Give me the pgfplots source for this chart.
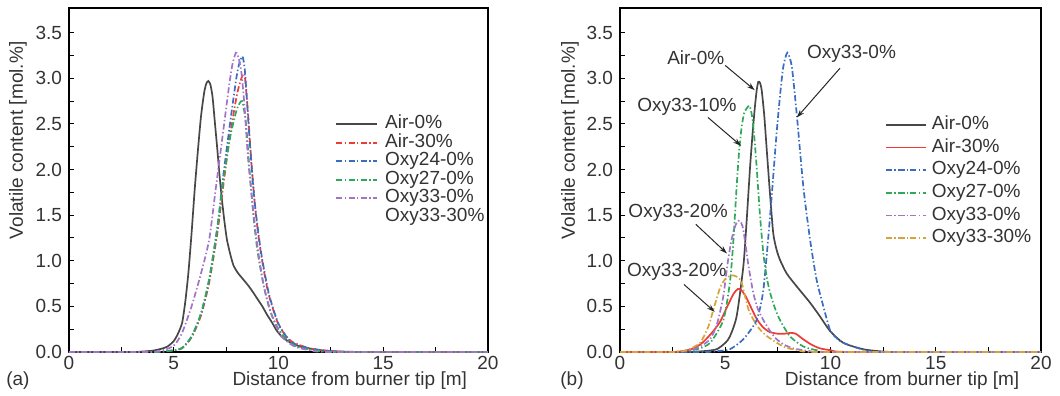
\documentclass[border=0pt]{standalone}
\usepackage{fontspec}
\setmainfont{Liberation Sans}
\usepackage{pgfplots}
\pgfplotsset{compat=1.18}
\usetikzlibrary{arrows.meta}
\definecolor{txt}{HTML}{333333}
\definecolor{cgray}{HTML}{474747}
\definecolor{cred}{HTML}{EE3B36}
\definecolor{cblue}{HTML}{3A6CC2}
\definecolor{cgreen}{HTML}{2FA85A}
\definecolor{cpurple}{HTML}{A274C8}
\definecolor{cgold}{HTML}{D6A23A}
\newcommand{\fs}{\fontsize{9.5}{11}\selectfont}
\pgfplotsset{
  myax/.style={
    scale only axis, height=172pt,
    xmin=0, xmax=20, ymin=0, ymax=3.77,
    clip=false,
    xtick={0,5,10,15,20}, minor xtick={2.5,7.5,12.5,17.5},
    ytick={0,0.5,1,1.5,2,2.5,3,3.5},
    minor ytick={0.25,0.75,1.25,1.75,2.25,2.75,3.25},
    tick align=inside, xtick pos=left, ytick pos=left,
    major tick length=2.5pt, minor tick length=2.5pt,
    tick style={color=black, line width=0.5pt},
    axis line style={line width=0.6pt, color=black},
    /pgf/number format/assume math mode=true,
    ticklabel style={font=\fs, text=txt},
    yticklabel style={/pgf/number format/.cd, fixed, fixed zerofill, precision=1},
    xticklabel style={/pgf/number format/fixed, yshift=1.5pt},
    xlabel={Distance from burner tip [m]},
    ylabel={Volatile content [mol.\%]},
    xlabel style={at={(axis description cs:0.67,-0.084)}, anchor=center, font=\fs, text=txt},
    label style={font=\fs, text=txt},
    legend cell align=left,
    legend image code/.code={\draw[mark repeat=2,mark phase=2,##1] plot coordinates {(0pt,0pt) (10pt,0pt) (20pt,0pt)};},
    every axis plot/.append style={line width=0.85pt},
  },
  dd/.style={dash pattern=on 3pt off 1.2pt on 0.7pt off 1.2pt},
}
\begin{document}
\begin{tikzpicture}
\useasboundingbox (0,0) rectangle (530pt,198pt);
% ---------------- (a)
\begin{axis}[myax, at={(34.5pt,22pt)}, anchor=south west, width=209.5pt,
  ylabel style={at={(axis description cs:-0.122,0.615)}, anchor=center},
  legend style={at={(0.635,0.69)}, anchor=north west, draw=none, fill=none,
    inner sep=0pt, row sep=0pt, column sep=4pt, font=\fs, text=txt,
    nodes={inner sep=0pt, text height=6.9pt, text depth=2.35pt, anchor=west}}]
\addplot[cgray, smooth, tension=0.4] table {
0 0
3.0 0
3.5 0.005
4.0 0.015
4.4 0.035
4.7 0.06
5.0 0.12
5.2 0.2
5.4 0.32
5.55 0.55
5.7 0.87
5.85 1.3
6.0 1.78
6.15 2.2
6.3 2.58
6.45 2.84
6.55 2.94
6.65 2.97
6.75 2.93
6.85 2.8
6.95 2.55
7.08 2.22
7.2 1.9
7.3 1.67
7.42 1.43
7.54 1.23
7.7 1.07
7.85 0.95
8.05 0.87
8.3 0.8
8.55 0.73
8.77 0.66
9.0 0.58
9.23 0.5
9.45 0.41
9.7 0.32
9.9 0.24
10.15 0.17
10.45 0.12
10.77 0.08
11.2 0.05
11.8 0.025
12.5 0.01
13.5 0.002
14.5 0
20 0
};
\addplot[cred, dd, smooth, tension=0.4] table {
0 0
4.0 0
4.7 0.01
5.38 0.04
5.85 0.16
6.3 0.4
6.69 0.76
7.08 1.3
7.38 1.85
7.69 2.38
8.0 2.8
8.2 2.98
8.38 3.04
8.55 2.6
8.7 2.1
8.9 1.55
9.15 1.1
9.5 0.66
10.0 0.3
10.6 0.12
11.5 0.04
12.5 0.01
13.5 0
20 0
};
\addplot[cblue, dd, smooth, tension=0.4] table {
0 0
4.0 0
4.7 0.01
5.38 0.04
5.85 0.17
6.3 0.42
6.69 0.79
7.08 1.37
7.38 1.96
7.69 2.51
8.0 3.02
8.15 3.18
8.28 3.24
8.38 3.12
8.46 2.88
8.62 2.33
8.85 1.67
9.15 1.12
9.54 0.64
10.0 0.31
10.6 0.11
11.5 0.04
12.5 0.01
13.5 0
20 0
};
\addplot[cgreen, dd, smooth, tension=0.4] table {
0 0
4.0 0
4.7 0.01
5.38 0.04
5.85 0.17
6.3 0.42
6.69 0.8
7.08 1.35
7.38 1.9
7.69 2.35
8.0 2.65
8.26 2.75
8.45 2.5
8.6 2.05
8.8 1.5
9.0 1.1
9.3 0.72
9.6 0.45
10.0 0.25
10.5 0.11
11.0 0.05
12.0 0.01
13.0 0
20 0
};
\addplot[cpurple, dd, smooth, tension=0.4] table {
0 0
3.8 0
4.5 0.02
5.0 0.07
5.38 0.2
5.85 0.5
6.3 0.86
6.69 1.23
7.0 1.78
7.31 2.33
7.62 2.88
7.8 3.15
7.97 3.28
8.1 3.22
8.23 3.06
8.38 2.69
8.54 2.14
8.77 1.6
9.0 1.15
9.3 0.72
9.7 0.39
10.15 0.17
10.77 0.06
11.5 0.02
12.5 0
20 0
};
\addlegendimage{empty legend}
\legend{Air-0\%,Air-30\%,Oxy24-0\%,Oxy27-0\%,Oxy33-0\%,Oxy33-30\%}
\node[font=\fs, text=txt] at (axis description cs:-0.122,-0.084) {(a)};
\end{axis}
% ---------------- (b)
\begin{axis}[myax, at={(310pt,22pt)}, anchor=south west, width=210.5pt,
  ylabel style={at={(axis description cs:-0.119,0.615)}, anchor=center},
  legend style={at={(0.629,0.694)}, anchor=north west, draw=none, fill=none,
    inner sep=0pt, row sep=0pt, column sep=2.5pt, font=\fs, text=txt,
    nodes={inner sep=0pt, text height=8pt, text depth=3.3pt, anchor=west}}]
\addplot[cgray, smooth, tension=0.4] table {
0 0
3.0 0
4.0 0.01
4.59 0.03
5.0 0.1
5.22 0.17
5.54 0.39
5.86 0.94
6.02 1.45
6.18 2.03
6.3 2.4
6.41 2.69
6.5 2.88
6.57 2.96
6.65 2.95
6.73 2.87
6.85 2.6
6.97 2.22
7.12 1.75
7.28 1.3
7.44 1.12
7.6 1.01
7.92 0.86
8.39 0.72
9.03 0.54
9.5 0.39
9.98 0.23
10.61 0.1
11.56 0.03
12.5 0.005
13.5 0
20 0
};
\addplot[cred, smooth, tension=0.4] table {
0 0
2.5 0
3.2 0.02
3.6 0.05
4.0 0.12
4.4 0.22
4.75 0.33
5.1 0.5
5.4 0.64
5.6 0.69
5.75 0.68
5.95 0.62
6.2 0.5
6.5 0.36
6.8 0.27
7.1 0.22
7.5 0.2
7.8 0.2
8.1 0.21
8.35 0.2
8.7 0.14
9.1 0.08
9.5 0.04
10.0 0.02
11.0 0
20 0
};
\addplot[cblue, dd, smooth, tension=0.4] table {
0 0
4.0 0
4.6 0.01
5.22 0.03
5.86 0.14
6.49 0.35
6.81 0.68
7.13 1.49
7.44 2.4
7.62 2.85
7.76 3.13
7.95 3.28
8.16 3.13
8.39 2.62
8.71 1.81
9.03 1.23
9.34 0.79
9.66 0.5
9.98 0.24
10.3 0.15
10.61 0.1
11.5 0.03
12.5 0
20 0
};
\addplot[cgreen, dd, smooth, tension=0.4] table {
0 0
2.5 0
3.64 0.03
4.28 0.1
4.91 0.35
5.22 0.76
5.38 1.2
5.54 1.81
5.66 2.2
5.78 2.47
5.9 2.62
6.02 2.67
6.14 2.7
6.22 2.65
6.3 2.54
6.4 2.3
6.49 2.03
6.65 1.5
6.81 1.08
6.97 0.82
7.13 0.65
7.36 0.48
7.6 0.35
8.08 0.17
8.71 0.06
9.34 0.02
10 0
20 0
};
\addplot[cpurple, dd, smooth, tension=0.4] table {
0 0
2.5 0
3.33 0.02
3.8 0.06
4.28 0.14
4.6 0.3
4.9 0.6
5.1 0.95
5.25 1.17
5.4 1.33
5.55 1.42
5.68 1.44
5.82 1.38
5.95 1.2
6.1 0.95
6.33 0.65
6.55 0.47
6.81 0.35
7.13 0.23
7.44 0.14
7.8 0.08
8.23 0.04
9 0.01
10 0
20 0
};
\addplot[cgold, dd, smooth, tension=0.4] table {
0 0
2.5 0
3.17 0.02
3.8 0.1
4.2 0.28
4.43 0.46
4.75 0.7
5.0 0.8
5.3 0.84
5.6 0.82
5.78 0.76
5.95 0.6
6.1 0.47
6.3 0.37
6.6 0.26
7.0 0.17
7.6 0.08
8.0 0.04
8.5 0.02
9.5 0
20 0
};
\legend{Air-0\%,Air-30\%,Oxy24-0\%,Oxy27-0\%,Oxy33-0\%,Oxy33-30\%}
\node[font=\fs, text=txt] at (axis description cs:-0.114,-0.084) {(b)};
\begin{scope}[every node/.style={font=\fs, text=txt}, arr/.style={-{Stealth[length=4pt,width=2.6pt]}, line width=0.5pt, color=black!85}]
\node at (axis cs:3.6,3.23) {Air-0\%};
\draw[arr] (axis cs:5.0,3.14) -- (axis cs:6.4,2.87);
\node at (axis cs:11.0,3.27) {Oxy33-0\%};
\draw[arr] (axis cs:10.45,3.11) -- (axis cs:8.4,2.57);
\node at (axis cs:3.18,2.69) {Oxy33-10\%};
\draw[arr] (axis cs:4.18,2.57) -- (axis cs:5.75,2.26);
\node at (axis cs:2.76,1.52) {Oxy33-20\%};
\draw[arr] (axis cs:3.6,1.40) -- (axis cs:5.08,1.08);
\node at (axis cs:2.7,0.88) {Oxy33-20\%};
\draw[arr] (axis cs:3.04,0.74) -- (axis cs:4.5,0.44);
\end{scope}
\end{axis}
\end{tikzpicture}
\end{document}
